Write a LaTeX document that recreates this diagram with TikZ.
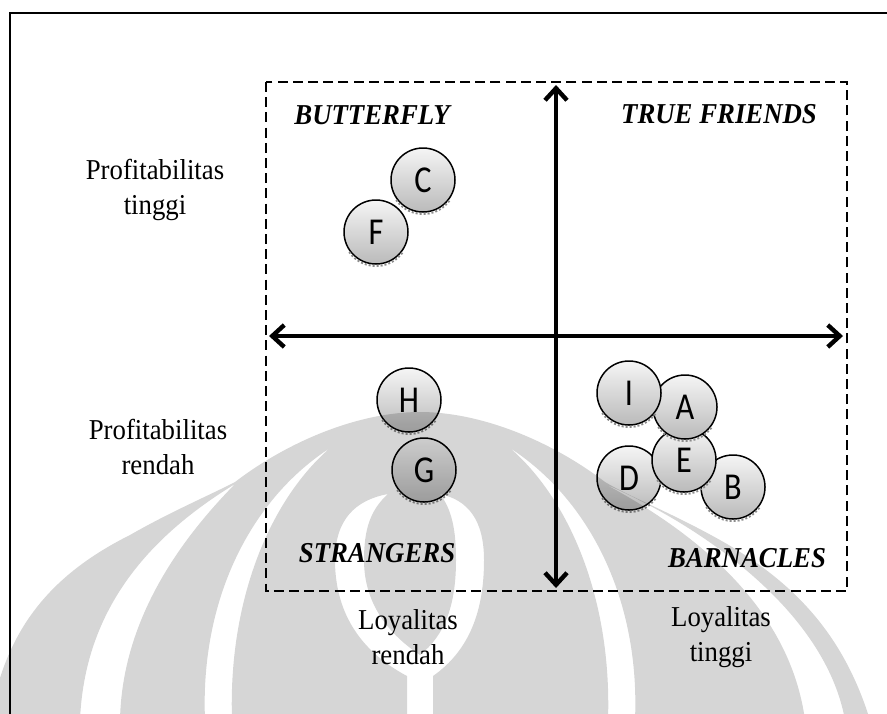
\documentclass[tikz,border=0pt]{standalone}
\usepackage{fontspec}
\setmainfont{Liberation Serif}[FakeStretch=0.93]
\newfontfamily\circfont{Carlito}[FakeStretch=0.85]
\usetikzlibrary{arrows.meta}

\tikzset{
  cust/.style={circle, draw=black, line width=0.75pt, minimum size=32pt, inner sep=0pt,
    top color=black!4, bottom color=black!27, font=\circfont\fontsize{19}{20}\selectfont},
  scallop/.style={black!45, densely dotted, line width=1pt},
  quad/.style={font=\fontsize{14.4}{17}\selectfont\bfseries\itshape, inner sep=0pt},
  axlbl/.style={font=\fontsize{14.4}{17.5}\selectfont, align=center, inner sep=0pt},
  axis/.style={line width=2.2pt, {Straight Barb[length=6pt,width=11pt]}-{Straight Barb[length=6pt,width=11pt]}},
  logo/.style={fill=black, fill opacity=0.16, even odd rule}
}

\begin{document}
\begin{tikzpicture}[x=0.5pt, y=-0.5pt]
    \useasboundingbox (0,0) rectangle (887,713);

    % frame and quadrant box
    \draw[line width=1pt] (10,720) -- (10,13) -- (895,13);
    \draw[line width=1pt, dash pattern=on 5pt off 2.6pt] (266,82) rectangle (847,591);

    % axes
    \coordinate (ytop) at (556,85);
    \coordinate (ybot) at (556,588);
    \coordinate (xleft) at (269,336);
    \coordinate (xright) at (843,336);
    \draw[axis] (ybot) -- (ytop);
    \draw[axis] (xleft) -- (xright);

    % quadrants
    \node[quad, anchor=west] (butterfly) at (294,115) {BUTTERFLY};
    \node[quad] (truefriends) at (719,114) {TRUE FRIENDS};
    \node[quad] (strangers) at (377,553) {STRANGERS};
    \node[quad] (barnacles) at (747,558) {BARNACLES};

    % axis labels
    \node[axlbl] (proftinggi) at (155,190) {Profitabilitas\\tinggi};
    \node[axlbl] (profrendah) at (158,447) {Profitabilitas\\rendah};
    \node[axlbl] (loyrendah) at (408,637) {Loyalitas\\rendah};
    \node[axlbl] (loytinggi) at (721,637) {Loyalitas\\tinggi};

    % customers
    \foreach \n/\t/\x/\y in {f/F/376/232, c/C/423/180, g/G/424/470, h/H/409/400,
                             b/B/733/487, d/D/629/478, e/E/684/460, a/A/685/407, i/I/629/393} {
        \node[cust] (\n) at (\x,\y) {\t};
        \draw[scallop] ([yshift=-0.6pt]\n.215) arc[start angle=215, end angle=325, radius=16.4pt];
    }

    % watermark
    \path[logo]
        (-10,720) .. controls (5,630) and (50,575) .. (130,535)
        .. controls (170,512) and (210,495) .. (235,482)
        .. controls (290,440) and (360,412) .. (420,412)
        .. controls (480,412) and (550,440) .. (605,482)
        .. controls (630,497) and (670,512) .. (720,540)
        .. controls (800,585) and (845,640) .. (870,720) -- cycle
        % bands
        (235,484) .. controls (160,530) and (85,600) .. (80,720) -- (120,720)
        .. controls (122,620) and (180,540) .. (235,484) -- cycle
        (605,484) .. controls (700,535) and (790,610) .. (805,720) -- (845,720)
        .. controls (825,610) and (700,525) .. (605,484) -- cycle
        (205,720) .. controls (200,600) and (250,500) .. (330,448)
        .. controls (270,500) and (228,600) .. (232,720) -- cycle
        (635,720) .. controls (640,600) and (590,500) .. (510,448)
        .. controls (570,500) and (612,600) .. (608,720) -- cycle
        % stem
        (407,720) -- (407,676) .. controls (358,650) and (335,610) .. (335,560)
        .. controls (335,520) and (355,500) .. (388,494)
        .. controls (370,510) and (364,530) .. (364,560)
        .. controls (364,605) and (390,635) .. (420,655)
        .. controls (445,635) and (456,605) .. (456,560)
        .. controls (456,530) and (452,510) .. (440,494)
        .. controls (468,500) and (484,520) .. (484,560)
        .. controls (484,610) and (470,650) .. (433,676) -- (433,720) -- cycle;
\end{tikzpicture}
\end{document}
